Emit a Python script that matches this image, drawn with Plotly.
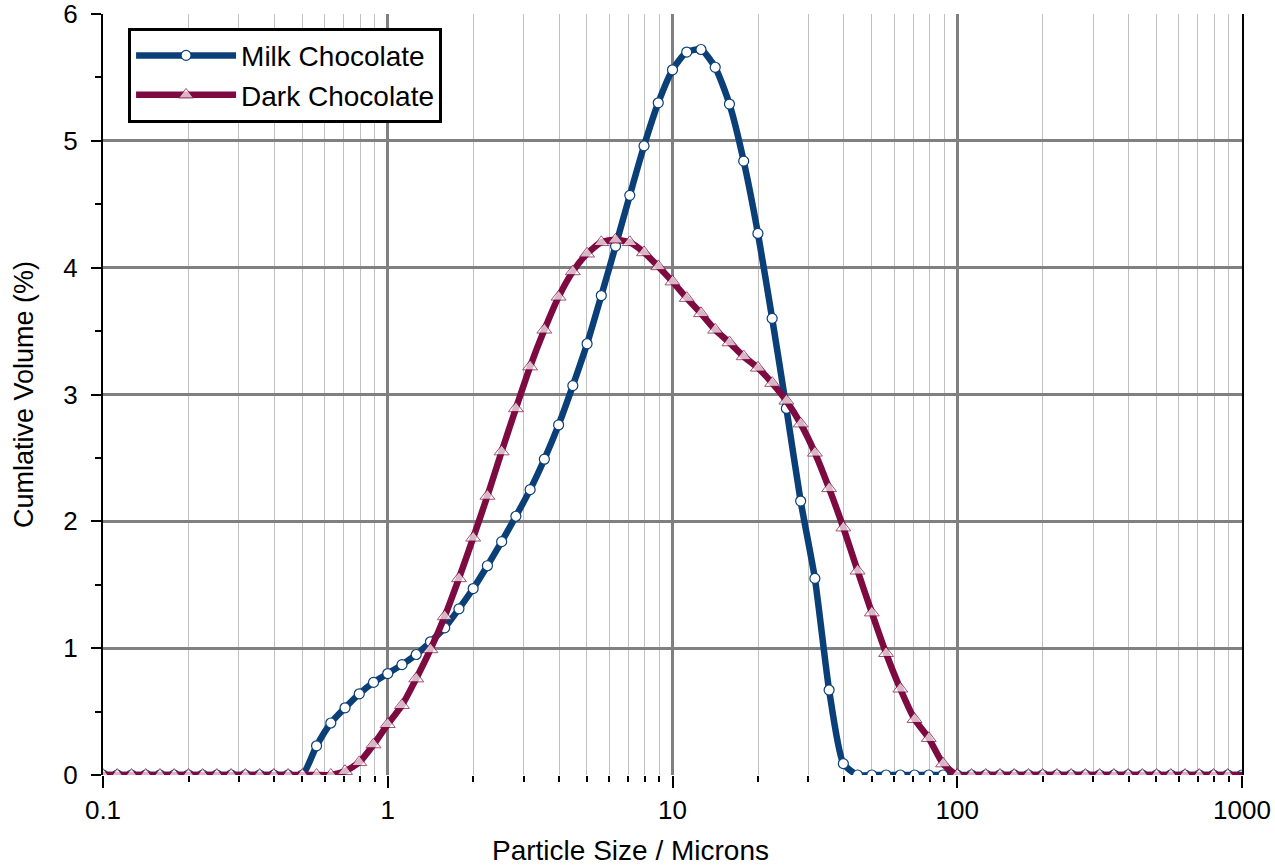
import plotly.graph_objects as go

# particle size classes: 20 per decade from 0.1 to 1000 microns
size_exponents = [-1 + k / 20 for k in range(81)]
particle_size = [round(10 ** e, 5) for e in size_exponents]

milk_zero_left = [0.0] * 15
milk_rise = [0.23, 0.41, 0.53, 0.64, 0.73, 0.80, 0.87, 0.95, 1.05, 1.16,
             1.31, 1.47, 1.65, 1.84, 2.04, 2.25, 2.49, 2.76, 3.07, 3.40,
             3.78, 4.17, 4.57, 4.96, 5.30, 5.56, 5.70, 5.72, 5.58, 5.29,
             4.84, 4.27, 3.60, 2.89, 2.16, 1.55, 0.67, 0.09]
milk_zero_right = [0.0] * 28
milk = milk_zero_left + milk_rise + milk_zero_right

dark_zero_left = [0.0] * 17
dark_rise = [0.03, 0.10, 0.24, 0.40, 0.55, 0.76, 0.99, 1.25, 1.55, 1.87,
             2.20, 2.55, 2.89, 3.22, 3.51, 3.77, 3.97, 4.11, 4.20, 4.22,
             4.20, 4.12, 4.01, 3.89, 3.76, 3.64, 3.51, 3.41, 3.30, 3.21,
             3.09, 2.95, 2.77, 2.54, 2.26, 1.95, 1.61, 1.28, 0.96, 0.68,
             0.44, 0.29, 0.09]
dark_zero_right = [0.0] * 21
dark = dark_zero_left + dark_rise + dark_zero_right

MILK = "#0a3f78"
DARK = "#7d0a40"
FONT = "Arial, Liberation Sans, sans-serif"

fig = go.Figure()
fig.add_trace(go.Scatter(
    x=particle_size, y=milk, name="Milk Chocolate",
    mode="lines+markers",
    line=dict(color=MILK, width=6.5, shape="spline", smoothing=0.6),
    marker=dict(symbol="circle", size=10, color="white",
                line=dict(color=MILK, width=1.2)),
))
fig.add_trace(go.Scatter(
    x=particle_size, y=dark, name="Dark Chocolate",
    mode="lines+markers",
    line=dict(color=DARK, width=6.5, shape="spline", smoothing=0.6),
    marker=dict(symbol="triangle-up", size=[13] * 80 + [0], color="white",
                line=dict(color=DARK, width=1)),
))

fig.update_layout(
    width=1275, height=867,
    margin=dict(l=103, r=33, t=14, b=92),
    paper_bgcolor="white", plot_bgcolor="white",
    font=dict(family=FONT, size=26, color="black"),
    showlegend=True,
    legend=dict(
        x=0.022, y=0.982, xanchor="left", yanchor="top",
        bgcolor="white", bordercolor="black", borderwidth=3,
        font=dict(size=28), itemwidth=100, tracegroupgap=0,
    ),
)

# x title sits left of centre in the original, so place it by hand
fig.add_annotation(
    text="Particle Size / Microns", xref="paper", yref="paper",
    x=0.463, y=-0.099, xanchor="center", yanchor="middle",
    showarrow=False, font=dict(size=28),
)

fig.update_xaxes(
    type="log", range=[-1, 3], automargin=False,
    tickvals=[0.1, 1, 10, 100, 1000], ticktext=["0.1", "1", "10", "100", "1000"],
    ticks="outside", ticklen=12, tickwidth=1.5, tickcolor="black",
    showgrid=True, gridcolor="#808080", gridwidth=3,
    minor=dict(dtick="D1", showgrid=True, gridcolor="#c0c0c0", gridwidth=1,
               ticks="outside", ticklen=6, tickcolor="black"),
    showline=False, zeroline=False,
    tickfont=dict(size=26), ticklabeloverflow="allow",
)

fig.update_yaxes(
    range=[0, 6], dtick=1, automargin=False,
    ticks="outside", ticklen=10, tickwidth=1.5, tickcolor="black",
    showgrid=True, gridcolor="#808080", gridwidth=3,
    minor=dict(dtick=0.5, ticks="outside", ticklen=6, tickcolor="black", showgrid=False),
    showline=True, linecolor="black", linewidth=2, mirror=True,
    zeroline=False,
    tickfont=dict(size=26), ticklabeloverflow="allow", ticklabelstandoff=8,
    title=dict(text="Cumlative Volume (%)", font=dict(size=27), standoff=22),
)

fig.write_html("out.html", config={"displayModeBar": False},
               post_script="document.body.style.margin='0';")
